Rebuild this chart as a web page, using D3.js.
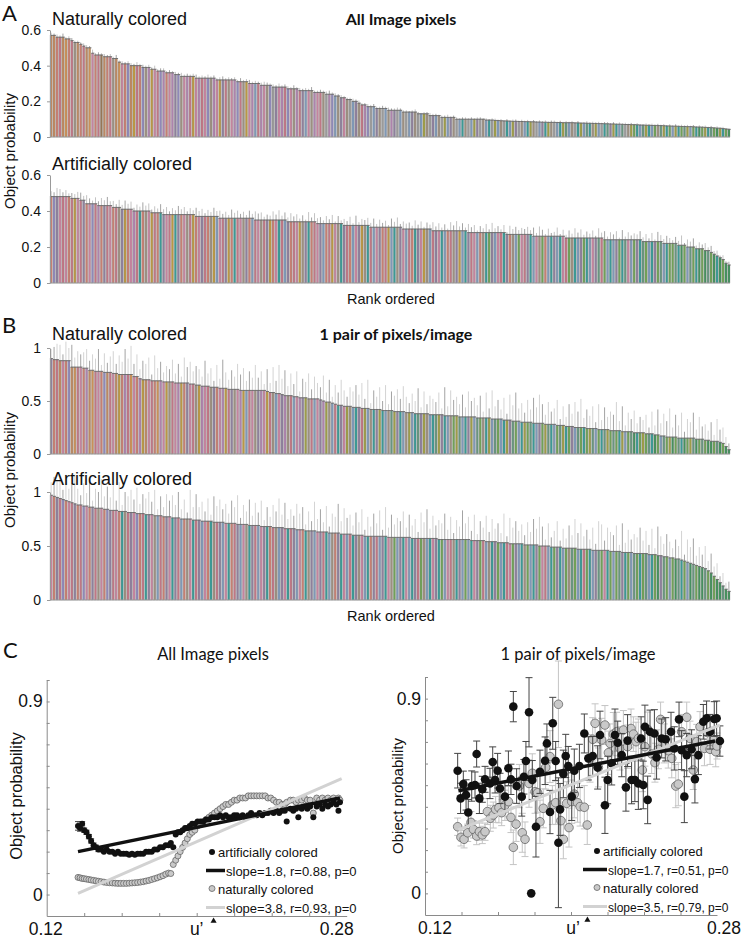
<!DOCTYPE html>
<html>
<head>
<meta charset="utf-8">
<script src="https://cdn.jsdelivr.net/npm/d3@7"></script>
<style>
  body { margin: 0; background: #fff; }
  svg text { font-family: "Liberation Sans", Arial, sans-serif; fill: #111; }
  .myr { font-family: Lato, "Open Sans", sans-serif; }
</style>
</head>
<body>
<svg id="fig" width="744" height="939"></svg>
<script>
// ---------- bar panels (rank ordered object probability) ----------
// A: all image pixels
const natA = [
  .57,.57,.56,.56,.56,.55,.55,.54,.53,.53, .52,.51,.50,.50,.47,.46,.46,.46,.45,.45,
  .45,.44,.44,.42,.41,.41,.41,.40,.40,.40, .40,.39,.39,.39,.38,.38,.37,.37,.37,.36,
  .36,.36,.35,.35,.34,.34,.34,.34,.34,.33, .33,.33,.33,.33,.33,.33,.32,.32,.32,.32,
  .32,.32,.32,.31,.31,.31,.31,.30,.30,.30, .30,.29,.29,.29,.29,.28,.28,.28,.28,.28,
  .27,.27,.27,.27,.26,.26,.26,.26,.26,.25, .25,.25,.25,.24,.24,.24,.23,.23,.22,.22,
  .21,.21,.20,.20,.19,.18,.18,.17,.17,.17, .16,.16,.16,.16,.15,.15,.15,.15,.15,.14,
  .14,.14,.14,.14,.13,.13,.13,.13,.12,.12, .12,.12,.11,.11,.11,.11,.11,.10,.10,.10,
  .10,.10,.10,.10,.10,.10,.10,.095,.095,.095, .093,.092,.091,.090,.090,.089,.088,.088,.087,.087,
  .086,.086,.085,.085,.084,.084,.083,.083,.082,.082, .082,.081,.081,.080,.080,.080,.080,.079,.079,.078,
  .078,.077,.077,.076,.076,.075,.075,.074,.074,.073, .073,.072,.072,.071,.070,.070,.069,.069,.068,.067,
  .067,.066,.066,.065,.065,.064,.064,.063,.062,.062, .061,.061,.060,.059,.059,.058,.058,.057,.056,.056,
  .055,.054,.053,.052,.051,.050,.049,.047,.045,.043
];
const artA = [
  .48,.48,.48,.48,.48,.48,.48,.47,.47,.47, .46,.46,.44,.44,.44,.44,.43,.43,.43,.43,
  .43,.42,.42,.42,.41,.41,.41,.41,.40,.40, .40,.40,.40,.40,.39,.39,.39,.39,.38,.38,
  .38,.38,.38,.38,.38,.38,.38,.38,.38,.37, .37,.37,.37,.37,.37,.37,.37,.36,.36,.36,
  .36,.36,.36,.36,.36,.36,.36,.36,.36,.35, .35,.35,.35,.35,.35,.35,.35,.35,.35,.35,
  .34,.34,.34,.34,.34,.34,.34,.34,.34,.34, .33,.33,.33,.33,.33,.33,.33,.33,.33,.32,
  .32,.32,.32,.32,.32,.32,.32,.32,.31,.31, .31,.31,.31,.31,.31,.31,.31,.31,.31,.30,
  .30,.30,.30,.30,.30,.30,.30,.30,.30,.29, .29,.29,.29,.29,.29,.29,.29,.29,.29,.29,
  .29,.28,.28,.28,.28,.28,.28,.28,.28,.28, .28,.28,.28,.28,.27,.27,.27,.27,.27,.27,
  .27,.27,.27,.26,.26,.26,.26,.26,.26,.26, .26,.26,.26,.26,.25,.25,.25,.25,.25,.25,
  .25,.25,.25,.25,.25,.25,.25,.24,.24,.24, .24,.24,.24,.24,.24,.24,.24,.24,.24,.24,
  .23,.23,.23,.23,.23,.23,.23,.22,.22,.22, .22,.22,.21,.21,.21,.20,.20,.20,.19,.19,
  .19,.18,.18,.17,.16,.15,.14,.13,.11,.10
];
// B: one pair of pixels per image
const natB = [
  .90,.89,.89,.88,.88,.88,.88,.82,.82,.82, .82,.81,.81,.79,.79,.78,.78,.78,.77,.77,
  .77,.76,.76,.75,.75,.75,.75,.75,.73,.73, .71,.70,.70,.70,.69,.69,.69,.69,.68,.68,
  .68,.68,.67,.67,.67,.67,.67,.66,.66,.65, .65,.64,.64,.64,.63,.63,.63,.62,.62,.62,
  .61,.61,.61,.61,.60,.60,.60,.60,.60,.60, .60,.60,.60,.59,.58,.58,.57,.57,.56,.55,
  .55,.55,.54,.54,.53,.53,.53,.52,.52,.52, .52,.51,.50,.49,.49,.48,.47,.46,.46,.45,
  .45,.45,.44,.44,.44,.43,.43,.43,.42,.42, .42,.42,.41,.41,.41,.41,.40,.40,.40,.40,
  .39,.39,.39,.38,.38,.38,.38,.38,.37,.37, .37,.37,.37,.36,.36,.36,.36,.36,.35,.35,
  .35,.35,.35,.35,.34,.34,.34,.34,.34,.33, .33,.33,.33,.32,.32,.32,.31,.31,.31,.30,
  .30,.30,.30,.29,.29,.29,.29,.28,.28,.28, .28,.27,.27,.27,.26,.26,.26,.25,.25,.25,
  .25,.24,.24,.24,.24,.23,.23,.23,.23,.22, .22,.22,.22,.21,.21,.21,.21,.20,.20,.20,
  .20,.19,.19,.19,.18,.18,.17,.17,.16,.16, .16,.16,.15,.15,.15,.15,.15,.15,.14,.14,
  .14,.13,.13,.12,.12,.12,.11,.10,.07,.04
];
const artB = [
  .97,.96,.95,.94,.93,.92,.91,.90,.89,.88, .88,.87,.87,.86,.86,.85,.85,.85,.84,.84,
  .83,.83,.83,.82,.82,.82,.81,.81,.81,.80, .80,.80,.79,.79,.79,.78,.78,.78,.77,.77,
  .77,.76,.76,.76,.75,.75,.75,.75,.74,.74, .74,.73,.73,.73,.73,.72,.72,.72,.72,.71,
  .71,.71,.71,.70,.70,.70,.70,.69,.69,.69, .69,.68,.68,.68,.68,.67,.67,.67,.67,.66,
  .66,.66,.66,.65,.65,.65,.64,.64,.64,.64, .63,.63,.63,.63,.62,.62,.62,.62,.61,.61,
  .61,.61,.60,.60,.60,.60,.59,.59,.59,.59, .59,.59,.59,.59,.58,.58,.58,.58,.58,.58,
  .58,.58,.57,.57,.57,.57,.57,.57,.57,.57, .57,.56,.56,.56,.56,.56,.56,.56,.56,.56,
  .56,.56,.55,.55,.55,.55,.55,.54,.54,.54, .54,.53,.53,.53,.53,.52,.52,.52,.52,.52,
  .51,.51,.51,.51,.51,.50,.50,.50,.50,.49, .49,.49,.49,.48,.48,.48,.48,.48,.47,.47,
  .47,.47,.47,.46,.46,.46,.46,.46,.46,.45, .45,.45,.45,.44,.44,.44,.44,.43,.43,.43,
  .43,.43,.42,.42,.42,.41,.41,.40,.40,.39, .39,.38,.38,.37,.36,.35,.34,.33,.32,.31,
  .30,.29,.27,.25,.22,.19,.16,.13,.10,.08
];

// error bars, one digit per bar (digit * unit)
const errNatA = "3232423322 2332423232 3242323324 2323242332 3232423234 2324232342 3232423423 2343232423 3242323242 2323423232 2232322323 2232322322 2123212232 2122312212 2121221212 2121212212 1212121212 2121212121 1212121221 2121212121 1212121212 1212121212 1212121211";
const errArtA = "5487463546 7485364758 4637485736 4857364857 3648573648 5736485746 3857463748 6735485947 4857362948 5637482736 4829365748 3746285937 5638472648 4736285947 3857264839 4637285746 5748396273 4826374958 3647295837 5829374658 4738296475 3649275836 4736352423";
const errNatB = "3455264735 4563547263 5736485947 3657284635 4736285746 5384627395 3648573648 4627384958 3748265837 5483726485 3657483926 4738265748 5364827365 4729385647 3856472839 4637285946 3748596374 5826374859 3647283746 5938264735 4627384759 3748265837 4536274532";
const errArtB = "4657384695 3748265947 4839265748 3657482637 5748362948 4637285746 3759264837 4826375948 3648572639 4738265948 5637482637 4829374658 3746285937 4658372649 5738264837 4639285746 3748596273 5826374958 4637298376 5829374658 4738296475 3649275836 4736352423";

// bar colours, one letter per bar
const barPalette = {
  a: "#bc8862", b: "#c67f72", c: "#c4849e", d: "#9c8f80", e: "#8f88b8", f: "#ba9744",
  g: "#ad83ac", h: "#7f98b6", i: "#3c9995", j: "#70a058", k: "#9d9c48", l: "#9a9a9a",
  m: "#bf7785", n: "#68957f", o: "#c99058", p: "#46905e", q: "#8e809c", r: "#957656"
};
const colNatA = "aabmaobmda bmaocbmrab mdaocbeafm bedgfcmegb cgqedcgmfc gmcedgcfqm dcgemdfcgh mgcdelqcgm ecdgmqhcdg cmdlgehdqc dlhqdmgelh qdlhdgqlhd lhqdlhkdlq hdlkhqdlhi dlhkqldhil khdlihkqld hikdlhqikd lhiknhdlik hnidkhlinq kihnldkjih nkihjdnkij hkijnkhjip jkinjpkijp";
const colArtA = "beqcmcbmfc mqbcemgbqm cbmdqfbcgm ibdcfmbiqc mfiqbcdmfb cqmbdfhcmq fbimcdqbhm cdmqfbcimh qbmcfdqibm cqhbmfcdiq mbhcqfdimh cqbmfhidqc hmbiqcfdhm qcihbmdqfh iqmchbdijq hcmiqbdhjc mqihcdjbhi qhicmjdihq jihcqnmjhi hqjinchjqi njhiqjnhij jnipjhnjip jpnjpipjpp";
const colNatB = "qbmacbeaom cbgaomcbea mcafbgmocb gfacmbogcf dmcgfbqcmd fgcmdqbcgf mqdcgfhmcd qgcfmdhcqg dmhcgqkdmh cqgkdhmiqc kdhiqmkhdi qkihdnkqih dkhinqkdhi nkqihdjknh iqkhnjdikh njhikqnjhi kjnihqjkni hjnkijqhnj ijknhjinkj njikhjnpij kjnipjhnjk pjnipjknpj njppjnpjpp";
const colArtB = "cbqmebcmqb mecbqmdcbe qmcbidmqce bmiqcdhmbq ciqmhbdcim qhcbidmqhc ibmqhcdiqm hcqibmdhqc imqhcbidqh cqmihdbqic hmiqdchibq mhqicdjhqi chiqmjdhic qijhcmdiqh jhicqjmhdi qjhimcjqhi djhiqjcmhi jqihjdnjhi mjihqnjcij hjnqijhnji jnhijpqnjh jpnijhpnjp pnjpjppnpp";

const ticksA = [0, 0.2, 0.4, 0.6];
const ticksB = [0, 0.5, 1];

// ---------- scatter panels (object probability vs u') ----------
const uLeft = [
  0.1367,0.1378,0.1389,0.1400,0.1412,0.1425,0.1437,0.1450,0.1463,0.1476,
  0.1490,0.1505,0.1520,0.1535,0.1550,0.1565,0.1580,0.1595,0.1610,0.1625,
  0.1640,0.1655,0.1670,0.1685,0.1700,0.1715,0.1730,0.1745,0.1760,0.1775,
  0.1790,0.1805,0.1820,0.1835,0.1850,0.1862,0.1875,0.1888,0.1900,0.1912,
  0.1925,0.1938,0.1950,0.1963,0.1976,0.1990,0.2005,0.2020,0.2035,0.2050,
  0.2065,0.2080,0.2095,0.2110,0.2125,0.2140,0.2155,0.2170,0.2185,0.2200,
  0.2215,0.2230,0.2245,0.2260,0.2275,0.2290,0.2305,0.2320,0.2335,0.2350,
  0.2365,0.2380,0.2395,0.2410,0.2425,0.2440,0.2455,0.2470,0.2480,0.2500,
  0.2515,0.2530,0.2542,0.2560,0.2575,0.2590,0.2605,0.2622,0.2640,0.2655,
  0.2670,0.2685,0.2700,0.2715,0.2730,0.2745,0.2756,0.2764
];
const artLeft = [
  .32,.31,.33,.30,.29,.27,.25,.23,.22,.21, .21,.20,.21,.20,.20,.19,.20,.19,.19,.19,
  .185,.19,.185,.19,.19,.19,.20,.20,.20,.21, .21,.22,.22,.23,.23,.24,.22,.28,.29,.29,
  .30,.31,.31,.32,.33,.33,.34,.34,.34,.35, .35,.36,.36,.36,.37,.36,.37,.36,.36,.37,
  .37,.36,.37,.36,.37,.38,.37,.37,.38,.37, .38,.38,.39,.38,.39,.38,.39,.39,.34,.40,
  .39,.40,.36,.40,.41,.40,.41,.36,.41,.42, .40,.42,.41,.42,.43,.42,.39,.43
];
const artLeftErr = [
  .02,.015,.01,.01,.01,.01,.01,.01,.01,.01
];
const natLeft = [
  .080,.078,.075,.074,.072,.070,.068,.066,.064,.062, .060,.058,.056,.055,.054,.053,.052,.052,.052,.052,
  .053,.054,.055,.056,.058,.060,.063,.066,.070,.074, .078,.083,.088,.095,.100,.098,.14,.16,.18,.20,
  .22,.24,.26,.28,.29,.30,.32,.33,.34,.35, .36,.37,.38,.39,.40,.41,.42,.42,.43,.44,
  .44,.45,.45,.45,.46,.46,.46,.46,.46,.46, .46,.45,.45,.44,.43,.43,.42,.42,.43,.44,
  .44,.43,.44,.44,.45,.44,.44,.38,.45,.44, .45,.44,.45,.44,.45,.44,.45,.44
];

const uArtRight = [
  0.1379,0.1395,0.1410,0.1425,0.1437,0.1456,0.1474,0.1483,0.1498,0.1514,
  0.1529,0.1556,0.1571,0.1584,0.1598,0.1611,0.1638,0.1657,0.1671,0.1684,
  0.1702,0.1730,0.1742,0.1753,0.1770,0.1788,0.1808,0.1830,0.1858,0.1868,
  0.1885,0.1900,0.1916,0.1931,0.1940,0.1958,0.1971,0.1985,0.2004,0.2018,
  0.2046,0.2073,0.2095,0.2119,0.2146,0.2159,0.2186,0.2201,0.2223,0.2241,
  0.2256,0.2278,0.2301,0.2310,0.2332,0.2350,0.2369,0.2384,0.2396,0.2405,
  0.2420,0.2433,0.2457,0.2469,0.2497,0.2519,0.2548,0.2566,0.2592,0.2606,
  0.2621,0.2634,0.2661,0.2679,0.2698,0.2725,0.2743,0.2762,0.2785,0.2798,
  0.2816,0.1782
];
const artRight = [
  .567,.439,.505,.455,.374,.496,.501,.644,.439,.481, .527,.508,.607,.524,.567,.485,.447,.578,.527,.863,
  .496,.447,.539,.612,.837,.524,.308,.562,.613,.693, .376,.786,.612,.234,.388,.552,.635,.589,.447,.567,
  .589,.739,.624,.635,.582,.732,.407,.524,.601,.732, .696,.639,.490,.706,.524,.524,.508,.716,.501,.770,
  .432,.747,.739,.628,.716,.712,.747,.670,.804,.662, .447,.639,.666,.528,.639,.793,.809,.747,.806,.809,
  .704,0
];
const artRightErr = [
  .08,.07,.06,.07,.06,.07,.06,.06,.07,.06, .06,.07,.07,.06,.08,.07,.07,.08,.07,.07,
  .08,.09,.08,.09,.16,.09,.14,.10,.11,.09, .10,.12,.09,.30,.12,.11,.10,.09,.11,.10,
  .10,.09,.10,.09,.10,.11,.13,.11,.10,.12, .10,.10,.11,.12,.11,.10,.12,.10,.11,.10,
  .11,.10,.11,.10,.09,.10,.09,.10,.08,.09, .12,.10,.09,.11,.09,.08,.08,.08,.08,.08,
  .07,0
];
const uNatRight = [
  0.1379,0.1397,0.1414,0.1434,0.1452,0.1465,0.1483,0.1498,0.1514,0.1529,
  0.1542,0.1558,0.1574,0.1587,0.1605,0.1620,0.1638,0.1657,0.1671,0.1684,
  0.1699,0.1717,0.1733,0.1748,0.1770,0.1788,0.1803,0.1817,0.1830,0.1848,
  0.1861,0.1885,0.1898,0.1916,0.1931,0.1945,0.1958,0.1976,0.1989,0.2004,
  0.2018,0.2036,0.2050,0.2073,0.2089,0.2104,0.2119,0.2132,0.2150,0.2168,
  0.2186,0.2205,0.2214,0.2232,0.2250,0.2268,0.2287,0.2310,0.2329,0.2342,
  0.2356,0.2369,0.2391,0.2405,0.2420,0.2442,0.2460,0.2479,0.2491,0.2511,
  0.2533,0.2552,0.2574,0.2588,0.2606,0.2634,0.2652,0.2670,0.2689,0.2707,
  0.2731,0.2749,0.2762,0.2780,0.2793,0.2800
];
const natRight = [
  .308,.259,.250,.280,.328,.296,.265,.285,.270,.285, .378,.347,.362,.388,.396,.373,.407,.424,.351,.213,
  .320,.496,.280,.250,.508,.555,.470,.465,.331,.393, .582,.632,.408,.419,.874,.336,.250,.416,.304,.424,
  .459,.419,.401,.398,.316,.624,.712,.786,.582,.709, .778,.650,.693,.736,.747,.670,.755,.678,.762,.736,
  .701,.716,.570,.678,.758,.644,.604,.666,.804,.693, .659,.624,.496,.505,.747,.814,.716,.570,.701,.770,
  .670,.743,.666,.709,.655,.681
];
const natRightErr = [
  .04,.04,.04,.04,.05,.04,.04,.04,.04,.04, .06,.06,.06,.06,.07,.06,.07,.07,.07,.08,
  .08,.10,.09,.08,.11,.09,.10,.09,.10,.09, .10,.12,.09,.10,.20,.10,.09,.10,.09,.10,
  .11,.09,.09,.10,.09,.11,.10,.09,.09,.10, .09,.10,.09,.10,.09,.10,.09,.10,.09,.08,
  .09,.09,.10,.09,.08,.09,.09,.09,.08,.09, .08,.09,.10,.10,.08,.07,.08,.09,.08,.07,
  .08,.07,.07,.06,.07,.06
];

// regression lines [u0, p0, u1, p1]
const fitArtLeft = [0.1367, 0.20, 0.2764, 0.45];
const fitNatLeft = [0.1367, 0.006, 0.2773, 0.540];
const fitArtRight = [0.1383, 0.474, 0.2789, 0.704];
const fitNatRight = [0.1383, 0.293, 0.2816, 0.778];

const uTicks = [0.14, 0.16, 0.18, 0.20, 0.22, 0.24, 0.26];
const pTicks = [0, 0.1, 0.2, 0.3, 0.4, 0.5, 0.6, 0.7, 0.8, 0.9, 1.0];
const pLabels = [0, 0.9];
const uLabels = ["0.12", "u\u2019", "0.28"];
const uLabelVals = [0.12, 0.20, 0.28];
const whiteU = 0.209;
const legendLeft = ["artificially colored", "slope=1.8, r=0.88, p=0", "naturally colored", "slope=3.8, r=0.93, p=0"];
const legendRight = ["artificially colored", "slope=1.7, r=0.51, p=0", "naturally colored", "slope=3.5, r=0.79, p=0"];

const svg = d3.select("#fig");

function txt(x, y, s, size, cls) {
  return svg.append("text").attr("x", x).attr("y", y).attr("font-size", size)
    .attr("class", cls || null).text(s);
}

function drawBars(vals, errStr, errUnit, colStr, yMax, ticks, yTop, yBot, errCol) {
  const errs = errStr.replace(/\s/g, "").split("").map(c => +c * errUnit);
  const cols = colStr.replace(/\s/g, "").split("");
  const x = d3.scaleBand().domain(d3.range(vals.length)).range([50, 730]).paddingInner(0.25);
  const y = d3.scaleLinear().domain([0, yMax]).range([yBot, yTop]);
  const g = svg.append("g");
  const cx = i => x(i) + x.bandwidth() / 2;

  g.append("g").selectAll("line").data(vals).join("line")
    .attr("x1", (d, i) => cx(i)).attr("x2", (d, i) => cx(i))
    .attr("y1", d => y(d)).attr("y2", (d, i) => y(d + (errs[i] || 0)))
    .attr("stroke", (d, i) => i % 3 === 1 ? "#8c8c8c" : errCol).attr("stroke-width", 0.8);

  g.append("g").selectAll("rect").data(vals).join("rect")
    .attr("x", (d, i) => x(i)).attr("width", x.bandwidth())
    .attr("y", d => y(d)).attr("height", d => y(0) - y(d))
    .attr("fill", (d, i) => barPalette[cols[i]] || "#aaa")
    .attr("stroke", "#777").attr("stroke-width", 0.25);

  // dark top edge of each bar
  g.append("g").selectAll("line").data(vals).join("line")
    .attr("x1", (d, i) => x(i)).attr("x2", (d, i) => x(i) + x.step())
    .attr("y1", d => y(d)).attr("y2", d => y(d))
    .attr("stroke", "#666").attr("stroke-width", 0.9);

  g.append("line").attr("x1", 50).attr("x2", 730).attr("y1", y(0)).attr("y2", y(0))
    .attr("stroke", "#9a9a9a");

  const ax = g.append("g").attr("transform", "translate(50,0)")
    .call(d3.axisLeft(y).tickValues(ticks).tickSize(3).tickSizeOuter(0).tickPadding(6)
      .tickFormat(d3.format("~g")));
  ax.select(".domain").attr("stroke", "#9a9a9a");
  ax.selectAll(".tick line").attr("stroke", "#9a9a9a");
  ax.selectAll("text").attr("font-size", 14).attr("fill", "#111")
    .attr("font-family", "Liberation Sans, Arial, sans-serif");
}

drawBars(natA, errNatA, 0.005, colNatA, 0.6, ticksA, 30, 137, "#b4b4b4");
drawBars(artA, errArtA, 0.006, colArtA, 0.6, ticksA, 175, 283, "#b4b4b4");
drawBars(natB, errNatB, 0.03, colNatB, 1, ticksB, 348, 454, "#c8c8c8");
drawBars(artB, errArtB, 0.03, colArtB, 1, ticksB, 492, 600, "#c8c8c8");

// bar panel texts
txt(2, 21, "A", 22, "myr");
txt(2, 333, "B", 22, "myr");
txt(3, 658, "C", 22, "myr");
txt(52, 25, "Naturally colored", 18);
txt(52, 170, "Artificially colored", 18);
txt(52, 340, "Naturally colored", 18);
txt(52, 485, "Artificially colored", 18);
txt(401, 25, "All Image pixels", 16, "myr").attr("font-weight", "bold").attr("text-anchor", "middle");
txt(396, 340, "1 pair of pixels/image", 16, "myr").attr("font-weight", "bold").attr("text-anchor", "middle");
txt(391, 304, "Rank ordered", 14.5).attr("text-anchor", "middle");
txt(391, 621, "Rank ordered", 14.5).attr("text-anchor", "middle");
svg.append("text").attr("transform", "translate(15,151) rotate(-90)").attr("text-anchor", "middle")
  .attr("font-size", 15).text("Object probability");
svg.append("text").attr("transform", "translate(15,470) rotate(-90)").attr("text-anchor", "middle")
  .attr("font-size", 15).text("Object probability");

function drawScatter(o) {
  const x = d3.scaleLinear().domain([0.12, 0.28]).range([o.x0, o.x1]);
  const y = d3.scaleLinear().domain([-0.1, 1.0]).range([o.y1, o.y0]);
  const g = svg.append("g");

  const ay = g.append("g").attr("transform", `translate(${o.x0},0)`)
    .call(d3.axisLeft(y).tickValues(pTicks).tickSize(-3).tickSizeOuter(0).tickFormat(""));
  const ax = g.append("g").attr("transform", `translate(0,${o.y1})`)
    .call(d3.axisBottom(x).tickValues(uTicks).tickSize(-3).tickSizeOuter(0).tickFormat(""));
  [ay, ax].forEach(a => { a.selectAll("path,line").attr("stroke", "#8a8a8a"); });

  g.selectAll("text.py").data(pLabels).join("text").attr("class", "py")
    .attr("x", o.x0 - 4).attr("y", d => y(d) + 6).attr("text-anchor", "end")
    .attr("font-size", 17.5).text(d => d3.format("~g")(d));
  g.selectAll("text.ux").data(uLabels).join("text").attr("class", "ux")
    .attr("x", (d, i) => x(uLabelVals[i]) + o.labDx[i]).attr("y", o.y1 + 19)
    .attr("text-anchor", "middle").attr("font-size", 17.5).text(d => d);
  g.append("path").attr("d", d3.symbol(d3.symbolTriangle, 16))
    .attr("transform", `translate(${x(whiteU)},${o.y1 + 5})`).attr("fill", "#111");

  svg.append("text").attr("class", "myr").attr("x", o.titleX).attr("y", 660)
    .attr("text-anchor", "middle").attr("font-size", 16.5).text(o.title);
  svg.append("text").attr("transform", `translate(${o.ylabX},796) rotate(-90)`)
    .attr("text-anchor", "middle").attr("font-size", o.ylabSize).text("Object probability");

  function series(us, ps, errs, fill, stroke, errCol) {
    const pts = us.map((u, i) => ({ u, p: ps[i], e: errs ? (errs[i] || 0) : 0 }));
    if (errs) {
      const eg = g.append("g").attr("stroke", errCol).attr("stroke-width", 1);
      const ep = pts.filter(d => d.e > 0);
      eg.selectAll("line.v").data(ep).join("line").attr("class", "v")
        .attr("x1", d => x(d.u)).attr("x2", d => x(d.u))
        .attr("y1", d => y(d.p - d.e)).attr("y2", d => y(d.p + d.e));
      [-1, 1].forEach(s => {
        eg.selectAll("line.c" + (s + 1)).data(ep).join("line").attr("class", "c" + (s + 1))
          .attr("x1", d => x(d.u) - o.cap).attr("x2", d => x(d.u) + o.cap)
          .attr("y1", d => y(d.p + s * d.e)).attr("y2", d => y(d.p + s * d.e));
      });
    }
    g.append("g").selectAll("circle").data(pts).join("circle")
      .attr("cx", d => x(d.u)).attr("cy", d => y(d.p)).attr("r", o.r)
      .attr("fill", fill).attr("stroke", stroke).attr("stroke-width", stroke === "none" ? 0 : 0.8);
  }
  series(o.uN, o.pN, o.eN, "#c9c9c9", "#666", "#c4c4c4");
  series(o.uA, o.pA, o.eA, "#111", "none", "#444");

  const fitLine = (f, col, w) => g.append("line")
    .attr("x1", x(f[0])).attr("y1", y(f[1])).attr("x2", x(f[2])).attr("y2", y(f[3]))
    .attr("stroke", col).attr("stroke-width", w);
  fitLine(o.fN, "#d2d2d2", 3);
  fitLine(o.fA, "#111", 3.5);

  // legend
  const L = o.leg, lg = g.append("g");
  const rowY = [0, 18.5, 36.5, 55.5].map(d => L.y + d);
  lg.append("circle").attr("cx", L.x).attr("cy", rowY[0]).attr("r", 3).attr("fill", "#111");
  lg.append("line").attr("x1", L.x + L.l0).attr("x2", L.x + L.l1).attr("y1", rowY[1]).attr("y2", rowY[1])
    .attr("stroke", "#111").attr("stroke-width", 3.5);
  lg.append("circle").attr("cx", L.x).attr("cy", rowY[2]).attr("r", 3).attr("fill", "#c9c9c9")
    .attr("stroke", "#666").attr("stroke-width", 0.8);
  lg.append("line").attr("x1", L.x + L.l0).attr("x2", L.x + L.l1).attr("y1", rowY[3]).attr("y2", rowY[3])
    .attr("stroke", "#d2d2d2").attr("stroke-width", 3);
  lg.selectAll("text").data(o.legText).join("text")
    .attr("x", (d, i) => i % 2 === 0 ? L.x + 6 : L.x + L.l1 + 1)
    .attr("y", (d, i) => rowY[i] + 5)
    .attr("font-size", (d, i) => i % 2 === 0 ? 13 : o.slopeSize).text(d => d);
}

drawScatter({
  x0: 46.7, x1: 346.7, y0: 680, y1: 916, r: 3, cap: 3,
  uA: uLeft, pA: artLeft, eA: artLeftErr, uN: uLeft, pN: natLeft, eN: null,
  fA: fitArtLeft, fN: fitNatLeft, labDx: [-1, 0, -10],
  title: "All Image pixels", titleX: 213, ylabX: 22, ylabSize: 16.5,
  leg: { x: 212, y: 852, l0: -6, l1: 13 }, legText: legendLeft, slopeSize: 13
});
drawScatter({
  x0: 425, x1: 717, y0: 677, y1: 915, r: 4.3, cap: 3.5,
  uA: uArtRight, pA: artRight, eA: artRightErr, uN: uNatRight, pN: natRight, eN: natRightErr,
  fA: fitArtRight, fN: fitNatRight, labDx: [10, 2, 7],
  title: "1 pair of pixels/image", titleX: 578, ylabX: 403, ylabSize: 15,
  leg: { x: 597, y: 851, l0: -14, l1: 10 }, legText: legendRight, slopeSize: 12
});
</script>
</body>
</html>
